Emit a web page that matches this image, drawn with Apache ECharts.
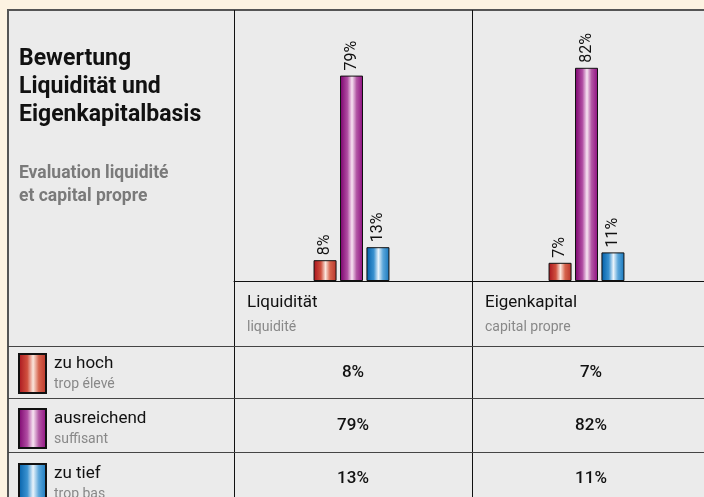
<!DOCTYPE html>
<html>
<head>
<meta charset="utf-8">
<script src="https://cdn.jsdelivr.net/npm/echarts@6/dist/echarts.min.js"></script>
<style>
  html, body { margin: 0; padding: 0; background: #fdf3e2; overflow: hidden; }
  #chart { width: 704px; height: 497px; }
</style>
</head>
<body>
<div id="chart"></div>
<script>
// data
const categories = ['Liquidität', 'Eigenkapital'];
const categoriesFr = ['liquidité', 'capital propre'];
const seriesNames = ['zu hoch', 'ausreichend', 'zu tief'];
const seriesNamesFr = ['trop élevé', 'suffisant', 'trop bas'];
const zuHoch = [8, 7];
const ausreichend = [79, 82];
const zuTief = [13, 11];

const FONT = 'Roboto, "Liberation Sans", sans-serif';

const chart = echarts.init(document.getElementById('chart'));

// glossy bar gradients (left -> right)
const gradStops = [
  ['#a8121c', '#d0503e', '#fbe6dc', '#d6634c', '#b8342a'],
  ['#7a006c', '#b04ca2', '#f8e4f2', '#b256a4', '#8e0c80'],
  ['#005ea8', '#3a92d0', '#eaf4fb', '#5aa6da', '#1676bc']
];
function grad(c) {
  return new echarts.graphic.LinearGradient(0, 0, 1, 0, [
    { offset: 0, color: c[0] },
    { offset: 0.32, color: c[1] },
    { offset: 0.52, color: c[2] },
    { offset: 0.72, color: c[3] },
    { offset: 1, color: c[4] }
  ]);
}

const allData = [zuHoch, ausreichend, zuTief];
const seriesArr = allData.map((d, i) => ({
  name: seriesNames[i],
  type: 'bar',
  data: d,
  barWidth: 23,
  barGap: '15%',
  itemStyle: { color: grad(gradStops[i]), borderColor: '#111', borderWidth: 1 },
  label: {
    show: true,
    position: 'top',
    rotate: 90,
    align: 'left',
    verticalAlign: 'middle',
    distance: 5,
    formatter: '{c}%',
    fontFamily: FONT,
    fontSize: 16,
    color: '#111'
  }
}));

// table + frame elements
const colLeft = [234, 472];
const colCenter = [353, 591];
const rowCenter = [373, 425.5, 478.5];
const graphics = [
  { type: 'rect', z: -10, shape: { x: 8, y: 10, width: 720, height: 500 },
    style: { fill: '#ebebeb', stroke: '#555', lineWidth: 2 } },
  { type: 'line', shape: { x1: 234.5, y1: 10, x2: 234.5, y2: 497 }, style: { stroke: '#111', lineWidth: 1 } },
  { type: 'line', shape: { x1: 472.5, y1: 10, x2: 472.5, y2: 497 }, style: { stroke: '#111', lineWidth: 1 } },
  { type: 'line', shape: { x1: 8, y1: 346.5, x2: 704, y2: 346.5 }, style: { stroke: '#444', lineWidth: 1 } },
  { type: 'line', shape: { x1: 8, y1: 398.5, x2: 704, y2: 398.5 }, style: { stroke: '#444', lineWidth: 1 } },
  { type: 'line', shape: { x1: 8, y1: 452.5, x2: 704, y2: 452.5 }, style: { stroke: '#444', lineWidth: 1 } },
  { type: 'text', style: {
      text: 'Bewertung\nLiquidität und\nEigenkapitalbasis', x: 19, y: 45,
      font: 'bold 23px ' + FONT, lineHeight: 28, fill: '#111', verticalAlign: 'top' } },
  { type: 'text', style: {
      text: 'Evaluation liquidité\net capital propre', x: 19, y: 162,
      font: 'bold 17.5px ' + FONT, lineHeight: 23, fill: '#7a7a7a', verticalAlign: 'top' } }
];
categories.forEach((c, j) => {
  graphics.push({ type: 'text', style: { text: c, x: colLeft[j] + 13, y: 302.5,
    font: '17px ' + FONT, fill: '#111', verticalAlign: 'middle' } });
  graphics.push({ type: 'text', style: { text: categoriesFr[j], x: colLeft[j] + 13, y: 327,
    font: '14px ' + FONT, fill: '#888', verticalAlign: 'middle' } });
  allData.forEach((d, i) => {
    graphics.push({ type: 'text', style: { text: d[j] + '%', x: colCenter[j], y: rowCenter[i],
      font: '500 17px ' + FONT, fill: '#111', align: 'center', verticalAlign: 'middle' } });
  });
});

chart.setOption({
  backgroundColor: '#fdf3e2',
  animation: false,
  grid: { left: 234, right: -6, top: 21, bottom: 216 },
  xAxis: {
    type: 'category',
    data: categories,
    axisLine: { lineStyle: { color: '#111', width: 1 } },
    axisTick: { show: false },
    axisLabel: { show: false }
  },
  yAxis: {
    type: 'value', min: 0, max: 100,
    show: false
  },
  legend: {
    orient: 'vertical',
    left: 18, top: 353,
    width: 200, height: 200,
    padding: 0,
    itemWidth: 27, itemHeight: 39, itemGap: 14,
    icon: 'rect',
    selectedMode: false,
    formatter: name => '{a|' + name + '}\n{b|' + seriesNamesFr[seriesNames.indexOf(name)] + '}',
    textStyle: {
      fontFamily: FONT,
      rich: {
        a: { fontSize: 17, color: '#111', lineHeight: 21, padding: [0, 0, 0, 3], fontFamily: FONT },
        b: { fontSize: 14, color: '#888', lineHeight: 20, padding: [0, 0, 0, 3], fontFamily: FONT }
      }
    }
  },
  graphic: graphics,
  series: seriesArr
});
</script>
</body>
</html>
